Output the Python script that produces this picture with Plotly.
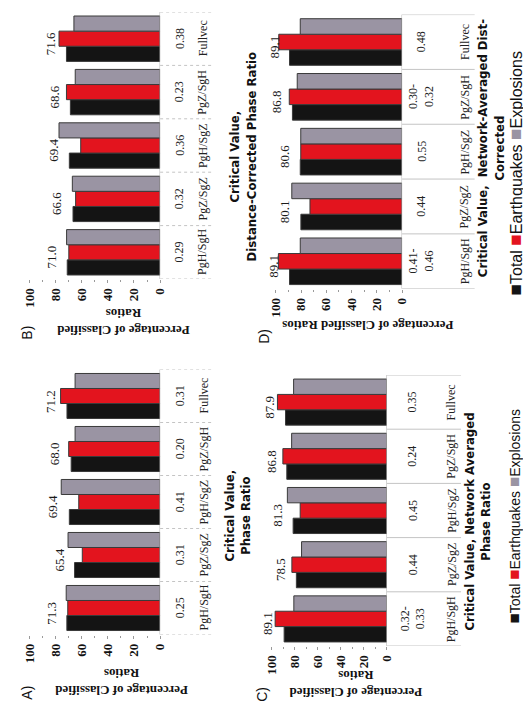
import plotly.graph_objects as go

# ---------------- data ----------------
categories = ["PgH/SgH", "PgZ/SgZ", "PgH/SgZ", "PgZ/SgH", "Fullvec"]

a_total = [71.3, 65.4, 69.4, 68.0, 71.2]
a_quakes = [70.6, 59.5, 62.2, 69.9, 76.1]
a_explos = [71.8, 70.4, 75.6, 65.0, 65.0]
a_crit = ["0.25", "0.31", "0.41", "0.20", "0.31"]

b_total = [71.0, 66.6, 69.4, 68.6, 71.6]
b_quakes = [69.8, 64.6, 60.7, 71.6, 77.3]
b_explos = [71.5, 67.1, 77.3, 64.9, 65.9]
b_crit = ["0.29", "0.32", "0.36", "0.23", "0.38"]

c_total = [89.1, 78.5, 81.3, 86.8, 87.9]
c_quakes = [96.9, 82.4, 75.2, 90.2, 94.9]
c_explos = [80.7, 74.0, 86.3, 82.6, 80.9]
c_crit = ["0.32-<br>0.33", "0.44", "0.45", "0.24", "0.35"]

d_total = [89.1, 80.1, 80.6, 86.8, 89.1]
d_quakes = [97.9, 72.9, 80.2, 89.3, 97.6]
d_explos = [80.6, 87.3, 80.2, 83.0, 80.6]
d_crit = ["0.41-<br>0.46", "0.44", "0.55", "0.30-<br>0.32", "0.48"]

series_names = ["Total", "Earthquakes", "Explosions"]
value_ticks = [0, 20, 40, 60, 80, 100]

# ---------------- styling ----------------
W, H = 531, 703
COLORS = ["#141414", "#e3141e", "#9a94a3"]
SERIF = "Liberation Serif, Times New Roman, serif"
SANS = "Liberation Sans, Arial, sans-serif"
NARROW = "Liberation Sans Narrow, Arial Narrow, DejaVu Sans Condensed, sans-serif"


def px_x(p):
    return p / W


def px_y(p):
    return 1 - p / H


panels = [
    dict(key="A", ax="", total=a_total, quakes=a_quakes, explos=a_explos, crit=a_crit,
         xpx=(13.7, 148.3), ypx=(361.5, 626.5), crit_x=169, cat_x=193, table_x=203,
         ytitle="Percentage of Classified<br>Ratios", ytitle_pos=(108, 674),
         label_pos=(11, 685), xtitle="Critical Value,<br>Phase Ratio", xtitle_pos=(228, 508),
         dash="dot"),
    dict(key="B", ax="2", total=b_total, quakes=b_quakes, explos=b_explos, crit=b_crit,
         xpx=(13.7, 148.3), ypx=(4, 271), crit_x=168, cat_x=192, table_x=203,
         ytitle="Percentage of Classified<br>Ratios", ytitle_pos=(110, 314),
         label_pos=(11, 325), xtitle="Critical Value,<br>Distance-Corrected Phase Ratio",
         xtitle_pos=(234, 148), dash="dot"),
    dict(key="C", ax="3", total=c_total, quakes=c_quakes, explos=c_explos, crit=c_crit,
         xpx=(263.0, 381.7), ypx=(367, 638), crit_x=408, cat_x=448, table_x=458,
         ytitle="Percentage of Classified<br>Ratios", ytitle_pos=(350, 676),
         label_pos=(253, 686), xtitle="Critical Value, Network Averaged<br>Phase Ratio",
         xtitle_pos=(475, 514), dash="solid"),
    dict(key="D", ax="4", total=d_total, quakes=d_quakes, explos=d_explos, crit=d_crit,
         xpx=(267.3, 397.3), ypx=(6.6, 280.7), crit_x=417, cat_x=462, table_x=472,
         ytitle="Percentage of Classified Ratios", ytitle_pos=(362, 318),
         label_pos=(255, 328), xtitle="Critical Value,  Network-Averaged Dist-<br>Corrected",
         xtitle_pos=(489, 140), dash="solid"),
]

fig = go.Figure()
annotations = []
shapes = []
layout_axes = {}

for p in panels:
    xa, ya = "x" + p["ax"], "y" + p["ax"]
    for name, vals, col in zip(series_names, [p["total"], p["quakes"], p["explos"]], COLORS):
        fig.add_trace(go.Bar(
            x=vals, y=categories, orientation="h", name=name, xaxis=xa, yaxis=ya,
            marker=dict(color=col, line=dict(color="#3a3a3a", width=1)),
            showlegend=False, hoverinfo="x+name",
        ))
    layout_axes["xaxis" + p["ax"]] = dict(
        domain=[px_x(p["xpx"][0]), px_x(p["xpx"][1])], anchor=ya,
        range=[100, 0], tickvals=value_ticks, ticktext=[str(v) for v in value_ticks],
        tickangle=-90, tickfont=dict(family=SERIF, size=13, color="#111", weight="bold"),
        ticks="outside", ticklen=3, tickcolor="#9a9a9a",
        minor=dict(ticks="outside", dtick=10, ticklen=2, tickcolor="#9a9a9a"),
        showgrid=False, zeroline=False, showline=False, fixedrange=True,
    )
    layout_axes["yaxis" + p["ax"]] = dict(
        domain=[px_y(p["ypx"][1]), px_y(p["ypx"][0])], anchor=xa,
        type="category", categoryorder="array", categoryarray=categories,
        range=[-0.5, 4.5], showticklabels=False, showgrid=False, zeroline=False,
        showline=False, ticks="", fixedrange=True,
    )
    # baseline (value 0) line
    shapes.append(dict(type="line", xref=xa, yref=ya + " domain", x0=0, x1=0, y0=0, y1=1,
                       line=dict(color="#b0b0b0", width=1)))
    # table separators
    for i in range(len(categories) + 1):
        shapes.append(dict(type="line", xref="paper", yref=ya,
                           x0=px_x(p["xpx"][1]), x1=px_x(p["table_x"]),
                           y0=i - 0.5, y1=i - 0.5,
                           line=dict(color="#c4c4c4", width=1, dash=p["dash"])))
    # data labels (Total)
    for c, v in zip(categories, p["total"]):
        annotations.append(dict(x=v, y=c, xref=xa, yref=ya, text=f"{v:.1f}", showarrow=False,
                                textangle=-90, xanchor="center", yanchor="middle",
                                xshift=-16, yshift=-5,
                                font=dict(family=SERIF, size=13, color="#1a1a1a")))
    # critical values and category names
    for c, cv in zip(categories, p["crit"]):
        annotations.append(dict(x=px_x(p["crit_x"]), y=c, xref="paper", yref=ya, text=cv,
                                showarrow=False, textangle=-90, xanchor="center",
                                yanchor="middle",
                                font=dict(family=SERIF, size=12, color="#222")))
        annotations.append(dict(x=px_x(p["cat_x"]), y=c, xref="paper", yref=ya, text=c,
                                showarrow=False, textangle=-90, xanchor="center",
                                yanchor="middle",
                                font=dict(family=SERIF, size=12, color="#222")))
    # axis titles
    annotations.append(dict(x=px_x(p["ytitle_pos"][0]), y=px_y(p["ytitle_pos"][1]),
                            xref="paper", yref="paper", text=p["ytitle"], showarrow=False,
                            textangle=180, xanchor="center", yanchor="middle",
                            font=dict(family=SERIF, size=13, color="#111", weight="bold")))
    annotations.append(dict(x=px_x(p["xtitle_pos"][0]), y=px_y(p["xtitle_pos"][1]),
                            xref="paper", yref="paper", text=p["xtitle"], showarrow=False,
                            textangle=-90, xanchor="center", yanchor="middle",
                            font=dict(family=NARROW, size=13, color="#111", weight="bold")))
    annotations.append(dict(x=px_x(p["label_pos"][0]), y=px_y(p["label_pos"][1]),
                            xref="paper", yref="paper", text=p["key"] + ")", showarrow=False,
                            textangle=-90, xanchor="center", yanchor="middle",
                            font=dict(family=SANS, size=14, color="#111")))


def legend_text(sq_size):
    return " ".join(
        f"<span style='color:{col};font-size:{sq_size}px'>■</span>{name}"
        for name, col in zip(series_names, COLORS)
    )


# legends (two, as in the figure)
annotations.append(dict(x=px_x(512), y=px_y(508), xref="paper", yref="paper",
                        text=legend_text(17), showarrow=False, textangle=-90,
                        xanchor="center", yanchor="middle",
                        font=dict(family=SANS, size=14, color="#111")))
annotations.append(dict(x=px_x(514), y=px_y(165), xref="paper", yref="paper",
                        text=legend_text(19), showarrow=False, textangle=-90,
                        xanchor="center", yanchor="middle",
                        font=dict(family=SANS, size=16, color="#111")))

fig.update_layout(
    width=W, height=H, margin=dict(l=0, r=0, t=0, b=0),
    paper_bgcolor="white", plot_bgcolor="white",
    barmode="group", bargap=0.15, bargroupgap=0.0,
    annotations=annotations, shapes=shapes, showlegend=False,
    **layout_axes,
)

fig.write_html("out.html", config={"displayModeBar": False})
